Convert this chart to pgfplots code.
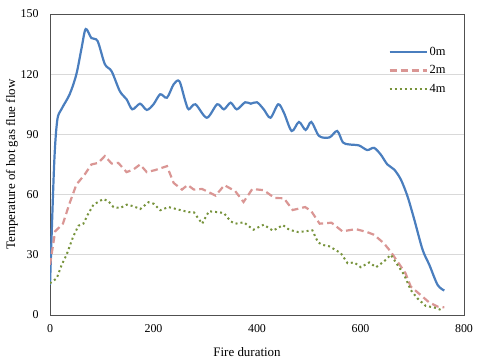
\documentclass[border=0pt]{standalone}
\usepackage{fontspec}
\setmainfont{Liberation Serif}
\usepackage{pgfplots}
\pgfplotsset{compat=1.18}
\definecolor{c0m}{RGB}{74,126,190}
\definecolor{c2m}{RGB}{218,150,148}
\definecolor{c4m}{RGB}{119,147,60}
\definecolor{gridc}{RGB}{217,217,217}
\definecolor{axc}{RGB}{80,80,80}

\begin{document}
\begin{tikzpicture}
\useasboundingbox (-50bp,-47bp) rectangle (430bp,315bp);
\begin{axis}[
  scale only axis, width=414bp, height=301bp,
  xmin=0, xmax=800, ymin=0, ymax=150,
  xtick={0,200,400,600,800}, ytick={0,30,60,90,120,150},
  major tick length=0pt,
  ymajorgrids, grid style={gridc, line width=0.8bp},
  axis line style={axc, line width=0.8bp},
  font=\fontsize{12}{14}\selectfont,
  /pgf/number format/assume math mode=true,
  /pgf/number format/1000 sep={},
  xticklabel style={yshift=-6bp},
  yticklabel style={xshift=-8bp},
  xlabel={Fire duration},
  ylabel={Temperature of hot gas flue flow},
  label style={font=\fontsize{13}{15}\selectfont},
  xlabel style={at={(axis description cs:0.476,-0.123)}, anchor=center},
  ylabel style={at={(axis description cs:-0.092,0.5)}, anchor=center},
  legend style={at={(rel axis cs:0.81,0.905)}, anchor=north west, draw=none, fill=none,
    font=\fontsize{12.5}{14}\selectfont, row sep=5bp},
  legend cell align=left,
  legend image code/.code={\draw[#1] (0bp,0bp) -- (37bp,0bp);},
]
\addplot[c0m, line width=2.2bp, smooth] coordinates {
(0,15) (8,75) (14,97) (22,102.5) (38,110) (51,120) (61,133) (69,142.5) (80,138)
(92,136.5) (106,125) (119,121.5) (135,111.5) (148,107.5) (159,102.5) (174,105.3)
(187,102.2) (200,105) (213,110) (226,108.3) (239,115) (250,116.5) (261,107)
(268,102.5) (281,105) (303,98.3) (323,105) (336,102.5) (349,105.8) (361,102.5)
(377,106) (388,105.3) (400,106) (413,102.5) (426,98.3) (441,105) (452,100.8)
(467,91.7) (481,96.2) (494,92.2) (505,96.2) (520,89.2) (540,88.5) (555,91.7)
(566,86) (578,85) (597,84.5) (613,82.2) (626,83.3) (639,80) (652,75) (665,72.5)
(678,67.5) (691,59) (704,47.5) (720,32.5) (733,25) (749,15) (762,12.2)
};
\addlegendentry{0m}
\addplot[c2m, line width=2.2bp, dash pattern=on 7bp off 4bp] coordinates {
(0,25) (10,41.7) (25,45.5) (38,55.8) (51,65) (67,70) (80,75) (93,75.8) (106,79.2)
(119,75.5) (132,75.8) (148,71.2) (161,72.5) (174,75) (187,71.2) (203,72.2)
(226,74.2) (239,65.8) (255,62.5) (266,64.8) (278,62.5) (294,62.8) (320,59.5)
(337,64.7) (358,61.7) (374,56.3) (391,62.8) (413,62.2) (434,58.3) (452,58.2)
(469,52.3) (493,53.8) (505,51.7) (521,45.5) (544,46) (565,41.7) (591,42.8)
(613,41.3) (626,40) (645,35.8) (658,31.7) (678,24.2) (687,20.8) (697,14.2)
(716,10) (733,6.2) (749,4.2) (762,3.8)
};
\addlegendentry{2m}
\addplot[c4m, line width=2bp, dash pattern=on 2bp off 3bp] coordinates {
(0,15.8) (13,18.3) (22.6,25) (32,30) (45,39.2) (55,44.5) (64.5,45.5) (73,50)
(84,55) (103,57.8) (113,56.7) (122.6,53.8) (135.6,53.3) (148.5,55) (161.4,54.2)
(174.3,52.8) (190.4,56.2) (200,55.5) (213,52.2) (229,53.8) (248.5,52.5) (268,51.3)
(278,51.2) (294,45.5) (307,51.7) (326,51.2) (336,50.8) (349,46.7) (358,45.5)
(374.5,46.2) (393,42.5) (413,45) (431,42) (450,44.8) (462,42.5) (480,41.3)
(507,42.2) (518,36.2) (526,35) (540,34.2) (562,30.8) (575,25.8) (588,26.2)
(600.5,23.8) (617,26.2) (630,23.8) (645.5,26.7) (658.5,30) (671.5,25) (684.4,20)
(697,12.5) (710,8.3) (726,4.5) (742,3.8) (759,2.2)
};
\addlegendentry{4m}
\end{axis}
\end{tikzpicture}
\end{document}
